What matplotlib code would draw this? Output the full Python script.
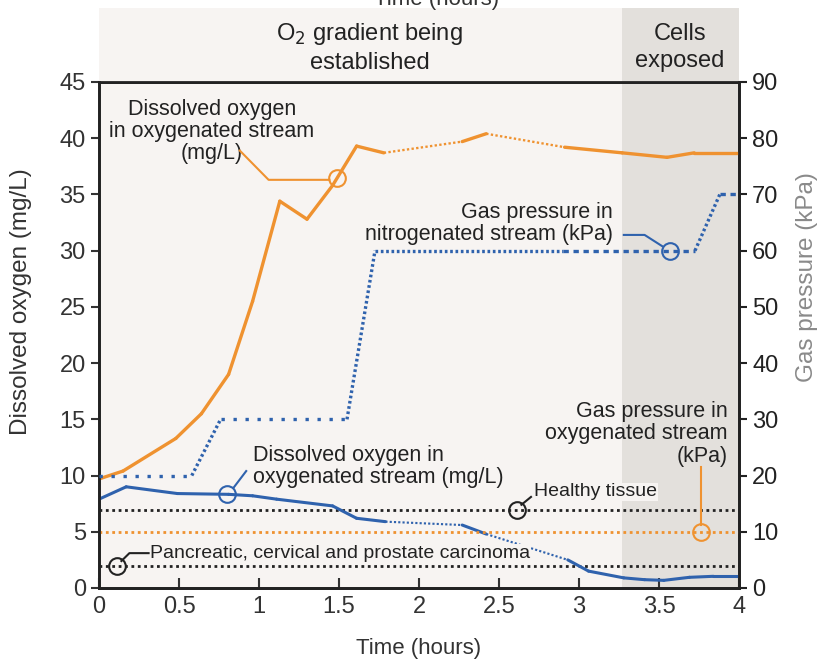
import numpy as np
import matplotlib
matplotlib.use("Agg")
import matplotlib.pyplot as plt

# ---- data ----
# dissolved oxygen, oxygenated stream (mg/L, left axis)
do_orange_x = [0, 0.15, 0.48, 0.64, 0.81, 0.96, 1.13, 1.30, 1.46, 1.61, 1.78, 2.27, 2.42, 2.91, 3.27, 3.55, 3.72, 4.0]
do_orange_y = [9.7, 10.4, 13.3, 15.5, 19.0, 25.5, 34.4, 32.8, 35.8, 39.3, 38.7, 39.7, 40.4, 39.2, 38.7, 38.3, 38.7, 38.7]
do_orange_dotted = [10, 12]          # segment indices drawn dotted

# dissolved oxygen, second stream (mg/L, left axis)
do_blue_x = [0, 0.17, 0.49, 0.81, 0.96, 1.11, 1.46, 1.61, 1.79, 2.27, 2.42, 2.93, 3.06, 3.28, 3.41, 3.53, 3.69, 3.84, 4.0]
do_blue_y = [7.9, 9.0, 8.4, 8.33, 8.2, 7.9, 7.3, 6.2, 5.9, 5.6, 4.8, 2.5, 1.5, 0.9, 0.74, 0.68, 0.95, 1.04, 1.04]
do_blue_dotted = [8, 10]

# gas pressure in nitrogenated stream (kPa, right axis)
n2_x = [0, 0.58, 0.76, 1.55, 1.725, 2.9, 3.725, 3.88, 4.0]
n2_y = [20, 20, 30, 30, 60, 60, 60, 70, 70]
n2_style = ["sparse", "dot", "sparse", "dot", "dot", "dash", "dot", "dash"]

# gas pressure in oxygenated stream (kPa, right axis)
o2_gas_x = [0, 4]
o2_gas_y = [10, 10]

# reference levels (mg/L)
healthy = 6.9
carcinoma = 2.0

exposed_start = 3.27

xticks = [0, 0.5, 1, 1.5, 2, 2.5, 3, 3.5, 4]
xticklabels = ["0", "0.5", "1", "1.5", "2", "2.5", "3", "3.5", "4"]
yticks_left = list(range(0, 46, 5))
yticks_right = list(range(0, 91, 10))

ORANGE = "#ef9230"
BLUE = "#2f62ad"
BG = "#f7f4f2"
BAND = "#e3e0dc"

reg = ["Liberation Sans", "DejaVu Sans"]

fig = plt.figure(figsize=(8.19, 6.6), dpi=100)
L, R = 99 / 819, 739 / 819
B, T = 1 - 588 / 660, 1 - 82 / 660
ax = fig.add_axes([L, B, R - L, T - B])
ax.set_xlim(0, 4)
ax.set_ylim(0, 45)
ax.set_facecolor(BG)
ax.axvspan(exposed_start, 4, color=BAND, lw=0, zorder=0)

# header band
fig.text(437 / 819, 1.0, "Time (hours)", ha="center", va="center", fontsize=16,
         family=reg, color="#333333")
hx = fig.add_axes([L, T, R - L, (1 - 8 / 660) - T])
hx.set_xlim(0, 4)
hx.set_ylim(0, 1)
hx.axis("off")
hx.add_patch(plt.Rectangle((0, 0), 4, 1, color=BG, lw=0, zorder=0))
hx.axvspan(exposed_start, 4, color=BAND, lw=0, zorder=1)
hx.text(1.69, 0.466, "O$_2$ gradient being\nestablished", ha="center", va="center",
        fontsize=17, family=reg, linespacing=1.25, color="#222222", zorder=2)
hx.text(3.63, 0.466, "Cells\nexposed", ha="center", va="center",
        fontsize=17, family=reg, linespacing=1.25, color="#222222", zorder=2)

# reference lines
ax.axhline(healthy, color="#222222", lw=2, ls=(0, (1, 1.3)), zorder=2)
ax.axhline(carcinoma, color="#222222", lw=2, ls=(0, (1, 1.3)), zorder=2)

ax2 = ax.twinx()
ax2.set_ylim(0, 90)
ax2.plot(o2_gas_x, o2_gas_y, color=ORANGE, lw=2, ls=(0, (1, 1.3)), zorder=2)


def draw_series(a, xs, ys, dotted, color, lw):
    for i in range(len(xs) - 1):
        if i in dotted:
            a.plot(xs[i:i + 2], ys[i:i + 2], color=color, lw=lw * 0.7,
                   ls=(0, (1, 1)), solid_capstyle="butt", zorder=3)
        else:
            a.plot(xs[i:i + 2], ys[i:i + 2], color=color, lw=lw,
                   solid_capstyle="round", zorder=3)


draw_series(ax, do_orange_x, do_orange_y, do_orange_dotted, ORANGE, 2.4)
draw_series(ax, do_blue_x, do_blue_y, do_blue_dotted, BLUE, 2.2)

styles = {"sparse": (0, (1, 2.6)), "dot": (0, (0.8, 0.8)), "dash": (0, (1.6, 1.4))}
for i in range(len(n2_x) - 1):
    ax2.plot(n2_x[i:i + 2], n2_y[i:i + 2], color=BLUE, lw=2.4,
             ls=styles[n2_style[i]], dash_capstyle="butt", zorder=3)

# annotations (leaders drawn in left-axis data units)
tkw = dict(fontsize=15.5, family=reg, color="#222222", linespacing=1.08)
ckw = dict(marker="o", ms=12, mfc="none", mew=1.5, zorder=5)

c = 1.49
ax.text(0.705, 40.6, "Dissolved oxygen\nin oxygenated stream\n(mg/L)", ha="center", va="center", **tkw)
ax.plot([0.88, 1.06, 1.44], [38.9, 36.3, 36.3], color=ORANGE, lw=1.5, zorder=5)
ax.plot(c, np.interp(c, do_orange_x, do_orange_y), color=ORANGE, **ckw)

c = 3.57
ax.text(3.21, 32.4, "Gas pressure in\nnitrogenated stream (kPa)", ha="right", va="center", **tkw)
ax.plot([3.28, 3.41, 3.52], [31.4, 31.4, 30.4], color=BLUE, lw=1.5, zorder=5)
ax.plot(c, np.interp(c, n2_x, n2_y) / 2, color=BLUE, **ckw)

c = 0.80
ax.text(0.96, 10.8, "Dissolved oxygen in\noxygenated stream (mg/L)", ha="left", va="center", **tkw)
ax.plot([0.92, 0.84], [10.4, 8.9], color=BLUE, lw=1.5, zorder=5)
ax.plot(c, np.interp(c, do_blue_x, do_blue_y), color=BLUE, **ckw)

skw = dict(tkw, fontsize=14)
ax.text(2.72, 8.55, "Healthy tissue", ha="left", va="center",
        bbox=dict(fc=BG, ec="none", pad=0.5), **skw)
ax.plot([2.70, 2.64], [8.1, 7.4], color="#222222", lw=1.5, zorder=5)
ax.plot(2.61, healthy, color="#222222", **ckw)

ax.text(0.32, 3.1, "Pancreatic, cervical and prostate carcinoma", ha="left", va="center",
        bbox=dict(fc=BG, ec="none", pad=0.5), **skw)
ax.plot([0.31, 0.19, 0.14], [3.1, 3.1, 2.4], color="#222222", lw=1.5, zorder=5)
ax.plot(0.11, carcinoma, color="#222222", **ckw)

c = 3.76
ax.text(3.93, 13.7, "Gas pressure in\noxygenated stream\n(kPa)", ha="right", va="center", **tkw)
ax.plot([c, c], [10.8, 5.6], color=ORANGE, lw=1.5, zorder=5)
ax.plot(c, np.interp(c, o2_gas_x, o2_gas_y) / 2, color=ORANGE, **ckw)

# axes styling
ax.set_xticks(xticks)
ax.set_xticklabels(xticklabels)
ax.set_yticks(yticks_left)
ax2.set_yticks(yticks_right)
ax.tick_params(axis="x", direction="in", length=7, width=1.5, pad=6,
               labelsize=17, colors="#333333")
ax.tick_params(axis="y", direction="out", length=6, width=1.5,
               labelsize=17, colors="#333333")
ax2.tick_params(axis="y", direction="out", length=6, width=1.5,
                labelsize=17, colors="#222222")
for lab in ax.get_xticklabels() + ax.get_yticklabels() + ax2.get_yticklabels():
    lab.set_family(reg)

for a in (ax, ax2):
    for s in a.spines.values():
        s.set_linewidth(2)
        s.set_color("#222222")
ax.spines["left"].set_color("#444444")

ax.set_xlabel("Time (hours)", fontsize=16, family=reg, color="#333333", labelpad=14)
ax.set_ylabel("Dissolved oxygen (mg/L)", fontsize=17.5, family=reg, color="#333333")
ax2.set_ylabel("Gas pressure (kPa)", fontsize=17.5, family=reg, color="#8a8a8a")
ax.yaxis.set_label_coords(-0.104, 0.565)
ax2.yaxis.set_label_coords(1.089, 0.615)

fig.savefig("out.png", dpi=100, facecolor="white")
